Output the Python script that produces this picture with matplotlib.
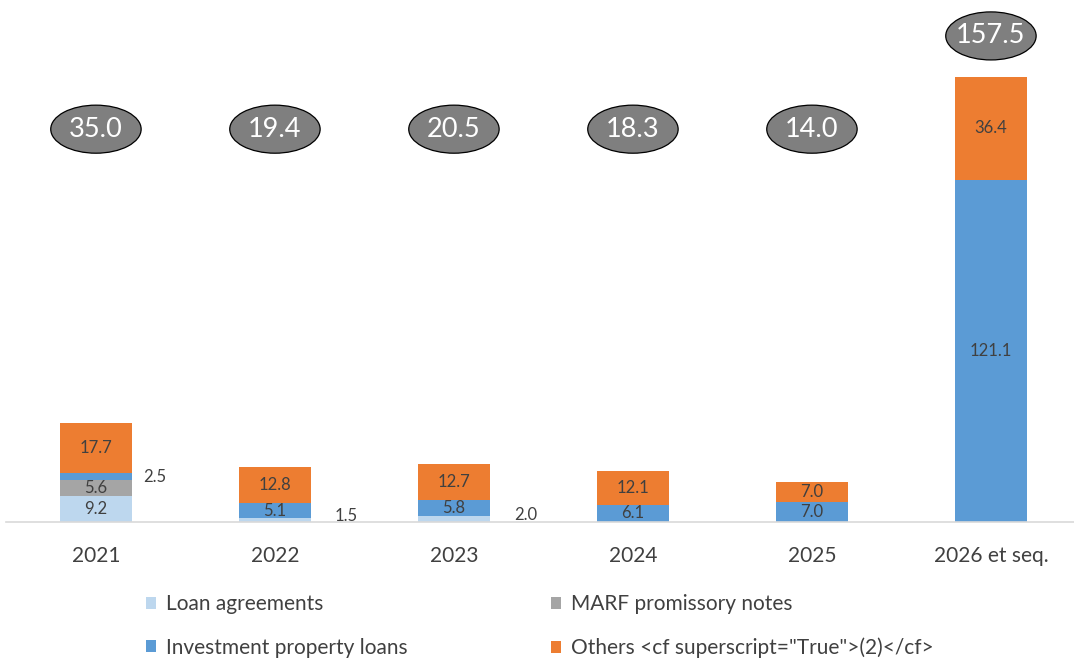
import numpy as np
import matplotlib.pyplot as plt
from matplotlib.patches import Ellipse

plt.rcParams['font.family'] = ['Lato', 'DejaVu Sans']

years = ['2021', '2022', '2023', '2024', '2025', '2026 et seq.']
loan = [9.2, 1.5, 2.0, 0.0, 0.0, 0.0]
marf = [5.6, 0.0, 0.0, 0.0, 0.0, 0.0]
invest = [2.5, 5.1, 5.8, 6.1, 7.0, 121.1]
others = [17.7, 12.8, 12.7, 12.1, 7.0, 36.4]
totals = [35.0, 19.4, 20.5, 18.3, 14.0, 157.5]

names = ['Loan agreements', 'MARF promissory notes', 'Investment property loans',
         'Others <cf superscript="True">(2)</cf>']
colors = ['#bdd7ee', '#a5a5a5', '#5b9bd5', '#ed7d31']
series = [loan, marf, invest, others]

fig = plt.figure(figsize=(10.74, 6.63), dpi=100)
ax = fig.add_axes([0.006, 0.2127, 1.0, 0.78])
x = np.arange(len(years))
w = 0.4
bottom = np.zeros(len(years))
bars = []
for vals, c, n in zip(series, colors, names):
    b = ax.bar(x, vals, w, bottom=bottom, color=c, label=n, zorder=2)
    bars.append(b)
    bottom += np.array(vals)

# labels inside bars, small ones beside
txt = '#404040'
bottom = np.zeros(len(years))
for k, vals in enumerate(series):
    for i, v in enumerate(vals):
        if v <= 0:
            continue
        yc = bottom[i] + v / 2
        if v >= 4:
            ax.text(x[i], yc, f'{v:.1f}', ha='center', va='center', fontsize=12, color=txt, zorder=3)
        else:
            dx = 0.33 if k == 2 else 0.40
            dy = 0 if k == 2 else 3
            ax.annotate(f'{v:.1f}', (x[i] + dx, yc), xytext=(0, dy), textcoords='offset points',
                        ha='center', va='center', fontsize=12, color=txt)
    bottom += np.array(vals)

# totals in ellipses
for i, t in enumerate(totals):
    yy = 172 if t > 100 else 139
    ax.add_patch(Ellipse((x[i], yy), 0.505, 17, fc='#7f7f7f', ec='black', lw=0.9, zorder=4))
    ax.text(x[i], yy, f'{t:.1f}', ha='center', va='center', fontsize=19.5, color='white', zorder=5)

ax.set_xlim(-0.5, 5.5)
ax.set_ylim(0, 183)
for s in ['top', 'right', 'left']:
    ax.spines[s].set_visible(False)
ax.spines['bottom'].set_color('#d9d9d9')
ax.spines['bottom'].set_linewidth(1.2)
ax.set_yticks([])
ax.set_xticks(x)
ax.set_xticklabels(years, fontsize=15, color='#404040')
ax.tick_params(axis='x', length=0, pad=17)

order = [0, 2, 1, 3]
fig.legend(handles=[bars[j] for j in order], labels=[names[j] for j in order],
           loc='upper left', bbox_to_anchor=(0.128, 0.116),
           ncol=2, frameon=False, fontsize=15, handlelength=0.5, handleheight=0.5,
           handletextpad=0.45, labelspacing=1.12, columnspacing=6.9, labelcolor='#404040',
           borderaxespad=0)

fig.savefig('out.png', dpi=100)
